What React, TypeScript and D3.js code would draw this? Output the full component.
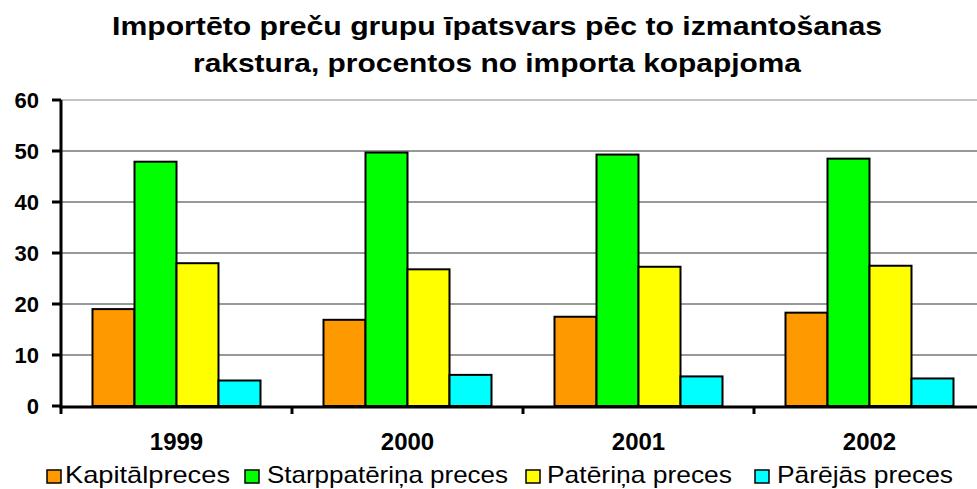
import * as d3 from "d3";

const years = ["1999", "2000", "2001", "2002"];
const series = ["Kapitālpreces", "Starppatēriņa preces", "Patēriņa preces", "Pārējās preces"];
const colors = ["#FF9900", "#00FF00", "#FFFF00", "#00FFFF"];
const kapital = [19.0, 16.9, 17.5, 18.3];
const starp = [47.9, 49.7, 49.3, 48.5];
const pater = [28.0, 26.8, 27.3, 27.5];
const parejas = [5.0, 6.1, 5.8, 5.4];
const yTicks = [0, 10, 20, 30, 40, 50, 60];
const titleLines = [
  "Importēto preču grupu īpatsvars pēc to izmantošanas",
  "rakstura, procentos no importa kopapjoma",
];

const W = 977;
const H = 489;
const font = "'Liberation Sans', Arial, sans-serif";

export default function App() {
  const values = [kapital, starp, pater, parejas];

  const x = d3.scaleBand().domain(years).range([61, 985]).paddingInner(0).paddingOuter(0);
  const inner = d3
    .scaleBand()
    .domain(series)
    .range([0, x.bandwidth()])
    .paddingInner(0)
    .paddingOuter(0.75);
  const y = d3.scaleLinear().domain([0, 60]).range([406, 100]);

  // legend layout: marker x, text x, text width
  const legendX = [47, 245, 526, 755];
  const legendTx = [65, 267, 547, 777];
  const legendTw = [165, 241, 185, 176];
  const titleLen = [770, 608];

  return (
    <svg width={W} height={H} style={{ position: "absolute", left: 0, top: 0, background: "#fff" }}>
      <rect width={W} height={H} fill="#fff" />
      {/* title */}
      {titleLines.map((t, i) => (
        <text
          key={t}
          x={497}
          y={35 + i * 37}
          textAnchor="middle"
          fontFamily={font}
          fontWeight="bold"
          fontSize={25}
          textLength={titleLen[i]}
          lengthAdjust="spacingAndGlyphs"
        >
          {t}
        </text>
      ))}

      {/* gridlines */}
      {yTicks.filter((t) => t > 0).map((t) => (
        <line
          key={t}
          x1={61}
          x2={W}
          y1={y(t)}
          y2={y(t)}
          stroke={t === 60 ? "#888" : "#333"}
          strokeWidth={1}
        />
      ))}

      {/* bars */}
      {years.map((yr, i) => (
        <g key={yr} transform={`translate(${x(yr)},0)`}>
          {series.map((s, j) => (
            <rect
              key={s}
              x={inner(s)}
              y={y(values[j][i])}
              width={inner.bandwidth()}
              height={y(0) - y(values[j][i])}
              fill={colors[j]}
              stroke="#000"
              strokeWidth={2}
            />
          ))}
        </g>
      ))}

      {/* axes */}
      <line x1={61} x2={61} y1={100} y2={407} stroke="#000" strokeWidth={3} />
      <line x1={59.5} x2={W} y1={407} y2={407} stroke="#000" strokeWidth={3} />
      {yTicks.map((t) => (
        <g key={t}>
          <line x1={52} x2={61} y1={y(t)} y2={y(t)} stroke="#000" strokeWidth={3} />
          <text
            x={39}
            y={y(t) + 8}
            textAnchor="end"
            fontFamily={font}
            fontWeight="bold"
            fontSize={22}
          >
            {t}
          </text>
        </g>
      ))}
      {years.map((yr) => (
        <line
          key={yr}
          x1={x(yr)}
          x2={x(yr)}
          y1={407}
          y2={414}
          stroke="#000"
          strokeWidth={3}
        />
      ))}
      {years.map((yr) => (
        <text
          key={yr}
          x={(x(yr) as number) + x.bandwidth() / 2}
          y={450}
          textAnchor="middle"
          fontFamily={font}
          fontWeight="bold"
          fontSize={24}
        >
          {yr}
        </text>
      ))}

      {/* legend */}
      {series.map((s, j) => (
        <g key={s}>
          <rect
            x={legendX[j]}
            y={470}
            width={14}
            height={13}
            fill={colors[j]}
            stroke="#000"
            strokeWidth={1.5}
          />
          <text
            x={legendTx[j]}
            y={483}
            fontFamily={font}
            fontSize={24}
            textLength={legendTw[j]}
            lengthAdjust="spacingAndGlyphs"
          >
            {s}
          </text>
        </g>
      ))}
    </svg>
  );
}
